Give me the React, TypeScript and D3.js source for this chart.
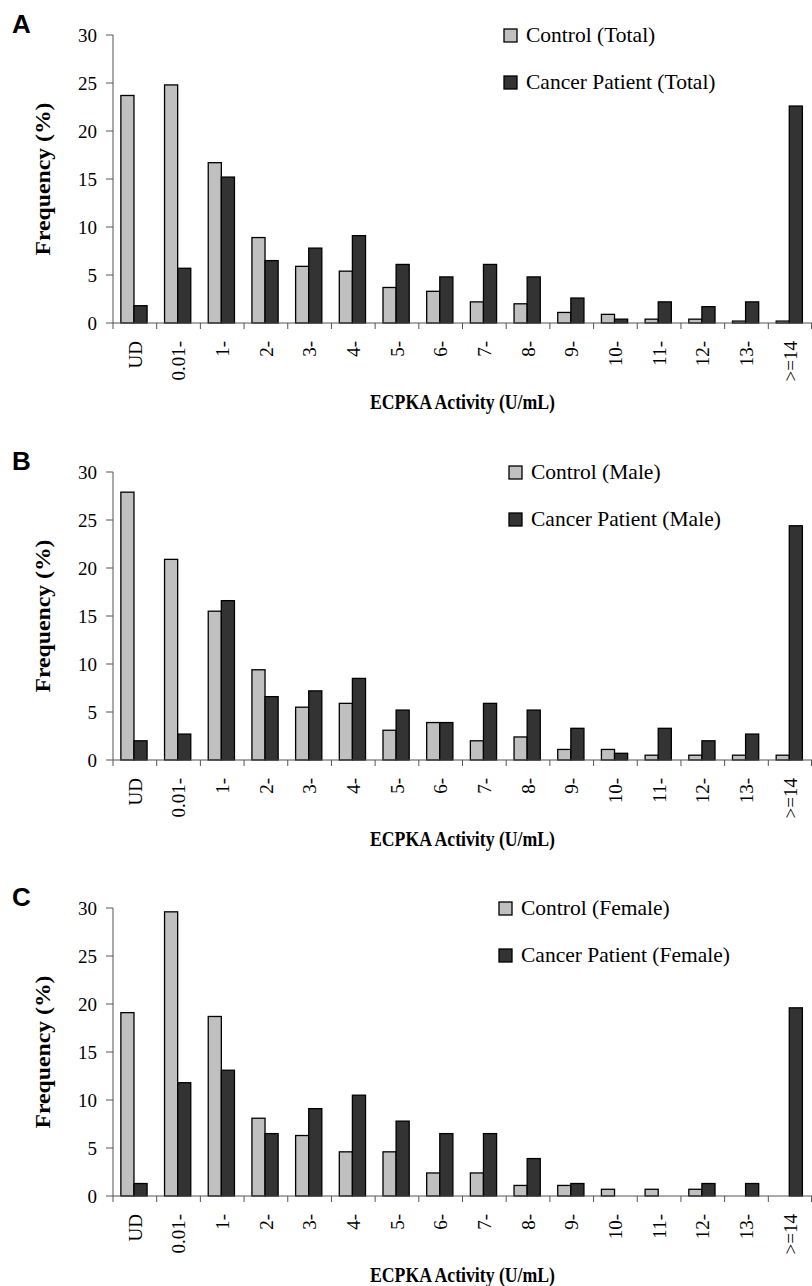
import React from "react";
import * as d3 from "d3";

const categories = ["UD", "0.01-", "1-", "2-", "3-", "4-", "5-", "6-", "7-", "8-", "9-", "10-", "11-", "12-", "13-", ">=14"];
const yTicks = [0, 5, 10, 15, 20, 25, 30];

const controlTotal = [23.7, 24.8, 16.7, 8.9, 5.9, 5.4, 3.7, 3.3, 2.2, 2.0, 1.1, 0.9, 0.4, 0.4, 0.2, 0.2];
const cancerTotal = [1.8, 5.7, 15.2, 6.5, 7.8, 9.1, 6.1, 4.8, 6.1, 4.8, 2.6, 0.4, 2.2, 1.7, 2.2, 22.6];
const controlMale = [27.9, 20.9, 15.5, 9.4, 5.5, 5.9, 3.1, 3.9, 2.0, 2.4, 1.1, 1.1, 0.5, 0.5, 0.5, 0.5];
const cancerMale = [2.0, 2.7, 16.6, 6.6, 7.2, 8.5, 5.2, 3.9, 5.9, 5.2, 3.3, 0.7, 3.3, 2.0, 2.7, 24.4];
const controlFemale = [19.1, 29.6, 18.7, 8.1, 6.3, 4.6, 4.6, 2.4, 2.4, 1.1, 1.1, 0.7, 0.7, 0.7, 0, 0];
const cancerFemale = [1.3, 11.8, 13.1, 6.5, 9.1, 10.5, 7.8, 6.5, 6.5, 3.9, 1.3, 0, 0, 1.3, 1.3, 19.6];

const panels = [
  { letter: "A", top: 35, legendX: 504, control: controlTotal, cancer: cancerTotal, labels: ["Control (Total)", "Cancer Patient (Total)"] },
  { letter: "B", top: 472, legendX: 509, control: controlMale, cancer: cancerMale, labels: ["Control (Male)", "Cancer Patient (Male)"] },
  { letter: "C", top: 908, legendX: 499, control: controlFemale, cancer: cancerFemale, labels: ["Control (Female)", "Cancer Patient (Female)"] },
];

const W = 812;
const H = 1286;
const left = 113;
const right = 812;
const plotH = 288;
const serif = "'Liberation Serif', Tinos, 'Times New Roman', Times, 'DejaVu Serif', serif";
const sans = "'Liberation Sans', Arial, sans-serif";
const fills = ["#c0c0c0", "#333333"];

const x = d3.scaleBand<string>().domain(categories).range([left, right]).paddingInner(0).paddingOuter(0);
const bw = x.bandwidth();
const inner = d3.scaleBand<string>().domain(["control", "cancer"]).range([bw * 0.18, bw * 0.78]);

function Panel({ p }: { p: (typeof panels)[number] }) {
  const y = d3.scaleLinear().domain([0, 30]).range([p.top + plotH, p.top]);
  const base = y(0);
  const series = [p.control, p.cancer];
  return (
    <g>
      <text x={12} y={p.top - 2} fontFamily={sans} fontWeight="bold" fontSize={26}>{p.letter}</text>
      {/* bars */}
      {series.map((vals, si) =>
        vals.map((v, i) =>
          v > 0 ? (
            <rect
              key={`${si}-${i}`}
              x={(x(categories[i]) ?? 0) + (inner(si === 0 ? "control" : "cancer") ?? 0)}
              y={y(v)}
              width={inner.bandwidth()}
              height={base - y(v)}
              fill={fills[si]}
              stroke="#000"
              strokeWidth={1.3}
            />
          ) : null
        )
      )}
      {/* y axis */}
      <line x1={left} x2={left} y1={y(30)} y2={base} stroke="#555" strokeWidth={1} />
      {yTicks.map((t) => (
        <g key={t}>
          <line x1={left - 7} x2={left} y1={y(t)} y2={y(t)} stroke="#555" />
          <text x={left - 16} y={y(t)} dy="0.35em" textAnchor="end" fontFamily={serif} fontWeight={400} fontSize={19}>{t}</text>
        </g>
      ))}
      {/* x axis */}
      <line x1={left} x2={right} y1={base} y2={base} stroke="#555" strokeWidth={1} />
      {categories.map((c, i) => (
        <line key={c} x1={left + i * bw} x2={left + i * bw} y1={base} y2={base + 6} stroke="#555" />
      ))}
      <line x1={right - 0.5} x2={right - 0.5} y1={base} y2={base + 6} stroke="#555" />
      {categories.map((c) => {
        const cx = (x(c) ?? 0) + bw / 2;
        const ty = base + 18;
        return (
          <text key={c} transform={`translate(${cx},${ty}) rotate(-90)`} dy="0.35em" textAnchor="end" fontFamily={serif} fontWeight={400} fontSize={19}>
            {c}
          </text>
        );
      })}
      <text x={(left + right) / 2} y={base + 86} textAnchor="middle" fontFamily={serif} fontWeight="bold" fontSize={21} textLength={185} lengthAdjust="spacingAndGlyphs">
        ECPKA Activity (U/mL)
      </text>
      <text transform={`translate(43,${(y(30) + base) / 2}) rotate(-90)`} dy="0.35em" textAnchor="middle" fontFamily={serif} fontWeight="bold" fontSize={21} textLength={153} lengthAdjust="spacingAndGlyphs">
        Frequency (%)
      </text>
      {/* legend */}
      {p.labels.map((lab, i) => (
        <g key={lab}>
          <rect x={p.legendX} y={p.top - 6 + i * 47} width={13} height={13} fill={fills[i]} stroke="#000" strokeWidth={1.3} />
          <text x={p.legendX + 22} y={p.top + 7 + i * 47} fontFamily={serif} fontWeight={400} fontSize={21.5}>{lab}</text>
        </g>
      ))}
    </g>
  );
}

export default function App() {
  return (
    <svg width={W} height={H} style={{ position: "absolute", left: 0, top: 0, background: "#fff" }}>
      {panels.map((p) => (
        <Panel key={p.letter} p={p} />
      ))}
    </svg>
  );
}
